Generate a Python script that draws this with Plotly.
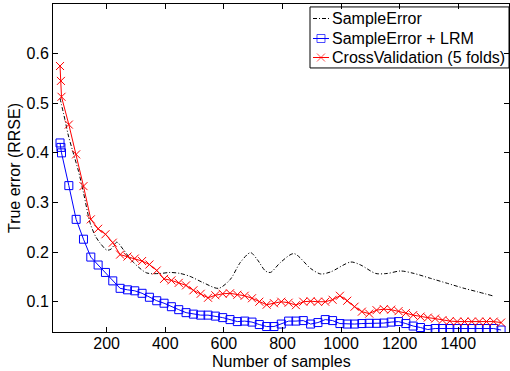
import plotly.graph_objects as go

# Sample counts for the marker series
x_samples = [41, 44, 46, 71, 96, 121, 146, 171, 196, 221, 246, 271, 296, 321, 346, 371, 396, 421,
             446, 471, 496, 521, 546, 571, 596, 621, 646, 671, 696, 721, 746, 771, 796, 821,
             846, 871, 896, 921, 946, 971, 996, 1021, 1046, 1071, 1096, 1121, 1146, 1171, 1196,
             1221, 1246, 1271, 1296, 1321, 1346, 1371, 1396, 1421, 1446, 1471, 1496, 1521, 1546]

lrm_err = [0.420, 0.411, 0.400, 0.334, 0.266, 0.226, 0.190, 0.174, 0.159, 0.142, 0.127, 0.124,
           0.122, 0.117, 0.109, 0.102, 0.097, 0.090, 0.084, 0.078, 0.075, 0.073, 0.073, 0.071,
           0.068, 0.064, 0.060, 0.061, 0.059, 0.054, 0.050, 0.050, 0.055, 0.061, 0.061, 0.062,
           0.055, 0.058, 0.064, 0.062, 0.056, 0.055, 0.055, 0.056, 0.0565, 0.0565, 0.057, 0.059,
           0.060, 0.056, 0.051, 0.048, 0.044, 0.046, 0.046, 0.046, 0.046, 0.046, 0.046, 0.046,
           0.046, 0.046, 0.043]

cv_err = [0.575, 0.545, 0.513, 0.457, 0.397, 0.333, 0.266, 0.247, 0.236, 0.219, 0.195, 0.191,
          0.187, 0.182, 0.175, 0.163, 0.146, 0.143, 0.138, 0.133, 0.123, 0.116, 0.108, 0.113,
          0.116, 0.117, 0.114, 0.112, 0.107, 0.100, 0.094, 0.097, 0.100, 0.098, 0.093, 0.100,
          0.101, 0.100, 0.100, 0.104, 0.112, 0.102, 0.090, 0.080, 0.076, 0.083, 0.085, 0.084,
          0.081, 0.077, 0.073, 0.070, 0.068, 0.066, 0.063, 0.061, 0.060, 0.060, 0.060, 0.060,
          0.060, 0.060, 0.058]

# SampleError curve (smooth, no markers)
se_x = [41, 58, 69, 86, 104, 121, 144, 162, 178, 201, 215, 235, 257, 292, 337, 383, 417, 451,
        485, 531, 582, 622, 656, 691, 714, 742, 759, 793, 839, 896, 930, 964, 1033, 1067, 1118,
        1158, 1203, 1249, 1306, 1363, 1420, 1466, 1517]
se_err = [0.510, 0.466, 0.436, 0.400, 0.363, 0.320, 0.258, 0.232, 0.218, 0.204, 0.206, 0.220,
          0.205, 0.179, 0.158, 0.157, 0.159, 0.157, 0.151, 0.138, 0.127, 0.145, 0.179, 0.199,
          0.185, 0.162, 0.159, 0.179, 0.197, 0.167, 0.156, 0.160, 0.180, 0.174, 0.157, 0.157,
          0.162, 0.157, 0.147, 0.137, 0.127, 0.120, 0.112]

series_names = ["SampleError", "SampleError + LRM", "CrossValidation (5 folds)"]
x_title = "Number of samples"
y_title = "True error (RRSE)"
x_ticks = [200, 400, 600, 800, 1000, 1200, 1400]
y_ticks = [0.1, 0.2, 0.3, 0.4, 0.5, 0.6]

FONT = "Liberation Sans, Arial, sans-serif"
FS = 16
BLACK_DASH = "4px,2px,1px,2px"

styles = [
    dict(line=dict(color="black", width=1, dash=BLACK_DASH), marker=None),
    dict(line=dict(color="#0000ff", width=1),
         marker=dict(symbol="square-open", size=8, color="#0000ff", line=dict(width=1, color="#0000ff"))),
    dict(line=dict(color="#ff0000", width=1),
         marker=dict(symbol="x-thin-open", size=8, color="#ff0000", line=dict(width=1, color="#ff0000"))),
]

fig = go.Figure()
fig.add_trace(go.Scatter(
    x=se_x, y=se_err, mode="lines", name=series_names[0],
    line=dict(styles[0]["line"], shape="spline", smoothing=0.8), showlegend=False,
))
fig.add_trace(go.Scatter(
    x=x_samples, y=lrm_err, mode="lines+markers", name=series_names[1],
    line=styles[1]["line"], marker=styles[1]["marker"], showlegend=False,
))
fig.add_trace(go.Scatter(
    x=x_samples, y=cv_err, mode="lines+markers", name=series_names[2],
    line=styles[2]["line"], marker=styles[2]["marker"], showlegend=False,
))

# ---- legend box (MATLAB style), glyphs on a hidden overlay axis spanning the plot area ----
leg_x0, leg_x1, leg_y0, leg_y1 = 0.5636, 1.0, 0.805, 0.991
glyph_x = [0.5702, 0.5877, 0.6053]
text_x = 0.6096
row_y = [0.9558, 0.8948, 0.8369]

fig.add_shape(type="rect", xref="paper", yref="paper", x0=leg_x0, x1=leg_x1, y0=leg_y0, y1=leg_y1,
              line=dict(color="black", width=1), fillcolor="white", layer="below")
for i, name in enumerate(series_names):
    st = styles[i]
    if st["marker"] is None:
        fig.add_trace(go.Scatter(x=[glyph_x[0], glyph_x[2]], y=[row_y[i], row_y[i]], mode="lines",
                                 line=st["line"], xaxis="x2", yaxis="y2", showlegend=False,
                                 hoverinfo="skip"))
    else:
        mk = dict(st["marker"])
        mk["size"] = [0, mk["size"], 0]
        fig.add_trace(go.Scatter(x=glyph_x, y=[row_y[i]] * 3, mode="lines+markers",
                                 line=st["line"], marker=mk, xaxis="x2", yaxis="y2",
                                 showlegend=False, hoverinfo="skip"))
    fig.add_annotation(x=text_x, y=row_y[i], xref="paper", yref="paper", text=name,
                       showarrow=False, xanchor="left", yanchor="middle", borderpad=0,
                       font=dict(family=FONT, size=FS, color="black"))

# x-axis title placed just under the tick labels (as in the reference)
fig.add_annotation(x=0.5, y=-0.089, xref="paper", yref="paper", text=x_title,
                   showarrow=False, xanchor="center", yanchor="middle", borderpad=0,
                   font=dict(family=FONT, size=FS, color="black"))

axis_common = dict(
    showline=True, linecolor="black", linewidth=1, mirror="ticks",
    ticks="inside", ticklen=5, tickcolor="black", tickwidth=1,
    showgrid=False, zeroline=False,
    tickfont=dict(family=FONT, size=FS, color="black"),
)

fig.update_layout(
    width=510, height=371,
    margin=dict(l=53, r=1, t=4, b=39),
    paper_bgcolor="white", plot_bgcolor="white",
    font=dict(family=FONT, size=FS, color="black"),
    xaxis=dict(range=[17, 1573], tickvals=x_ticks, ticklabelstandoff=-3, **axis_common),
    yaxis=dict(range=[0.039, 0.70], tickvals=y_ticks, ticktext=[f"{v:.1f}" for v in y_ticks],
               title=dict(text=y_title, font=dict(family=FONT, size=FS), standoff=1),
               **axis_common),
    xaxis2=dict(overlaying="x", range=[0, 1], visible=False, fixedrange=True),
    yaxis2=dict(overlaying="y", range=[0, 1], visible=False, fixedrange=True),
    showlegend=False,
)

fig.write_html("out.html")
